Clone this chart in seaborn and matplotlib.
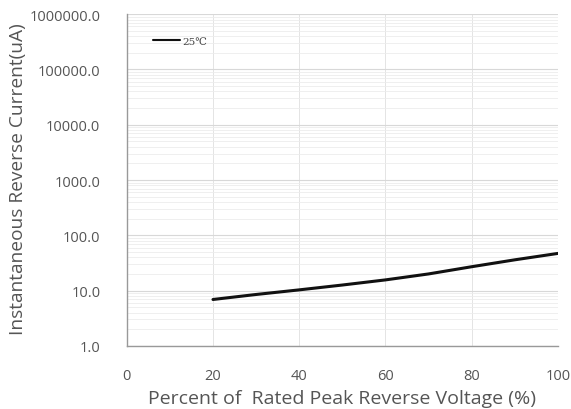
import matplotlib
matplotlib.use("Agg")
import matplotlib.pyplot as plt
import matplotlib.ticker as mticker
import seaborn as sns
import pandas as pd

# percent of rated peak reverse voltage vs reverse current (uA) at 25C
voltage_pct = [20, 30, 40, 50, 60, 70, 80, 90, 100]
current_ua = [6.9, 8.5, 10.3, 12.6, 15.6, 20.0, 27.0, 36.0, 47.0]
series_name = "25\u2103"

x_ticks = [0, 20, 40, 60, 80, 100]
y_ticks = [1, 10, 100, 1000, 10000, 100000, 1000000]

df = pd.DataFrame({"pct": voltage_pct, "ua": current_ua, "series": series_name})

sns.set_style("white")
plt.rcParams["font.family"] = ["Open Sans", "DejaVu Sans"]

fig = plt.figure(figsize=(5.71, 4.10), dpi=100)
ax = fig.add_axes([0.222, 0.154, 0.755, 0.809])

sns.lineplot(data=df, x="pct", y="ua", hue="series", palette=["#111111"],
             linewidth=2.2, ax=ax)

ax.set_yscale("log")
ax.set_xlim(0, 100)
ax.set_ylim(1, 1000000)
ax.set_xticks(x_ticks)
ax.set_yticks(y_ticks)
ax.yaxis.set_major_formatter(mticker.FuncFormatter(lambda v, p: f"{v:.1f}"))
ax.yaxis.set_minor_locator(mticker.LogLocator(base=10, subs=range(2, 10)))
ax.yaxis.set_minor_formatter(mticker.NullFormatter())

ax.grid(True, which="major", axis="y", color="#d8d8d8", linewidth=0.8)
ax.grid(True, which="major", axis="x", color="#e4e4e4", linewidth=0.7)
ax.grid(True, which="minor", axis="y", color="#ececec", linewidth=0.6)

for s in ["top", "right"]:
    ax.spines[s].set_visible(False)
for s in ["left", "bottom"]:
    ax.spines[s].set_color("#999999")
    ax.spines[s].set_linewidth(1.0)

ax.tick_params(axis="both", which="major", colors="#555555", labelsize=10.5,
               length=3, direction="out")
ax.tick_params(axis="y", pad=16)
ax.tick_params(axis="x", length=0, pad=16)
ax.tick_params(axis="y", which="minor", length=0)

ax.set_xlabel("Percent of  Rated Peak Reverse Voltage (%)", fontsize=14,
              color="#555555", labelpad=4)
ax.set_ylabel("Instantaneous Reverse Current(uA)", fontsize=13.8,
              color="#555555")
ax.yaxis.set_label_coords(-0.232, 0.505)

leg = ax.legend(loc="upper left", bbox_to_anchor=(0.04, 0.96), frameon=False,
                fontsize=7.5, handlelength=2.6, handletextpad=0.15)
for line in leg.get_lines():
    line.set_linewidth(1.5)
for t in leg.get_texts():
    t.set_color("#444444")
    t.set_family(["DejaVu Serif"])

fig.savefig("out.png", dpi=100)
